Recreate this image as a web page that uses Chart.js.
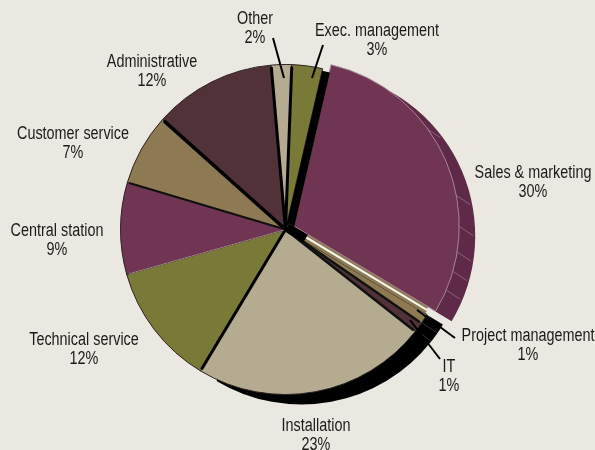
<!DOCTYPE html>
<html>
<head>
<meta charset="utf-8">
<title>Staff by department</title>
<script src="https://cdn.jsdelivr.net/npm/chart.js@4/dist/chart.umd.min.js"></script>
<style>
  html, body { margin: 0; padding: 0; background: #ebe8e1; overflow: hidden; }
  canvas { position: absolute; left: 0; top: 0; }
</style>
</head>
<body>
<canvas id="depthChart" width="595" height="450"></canvas>
<canvas id="pieChart" width="595" height="450"></canvas>
<script>
var categories = ["Sales & marketing", "Project management", "IT", "Installation", "Technical service",
  "Central station", "Customer service", "Administrative", "Other", "Exec. management"];
var percents = [30, 1, 1, 23, 12, 9, 7, 12, 2, 3];

var sliceColors = ["#6f3553", "#8e7a52", "#513239", "#b5ab90", "#7a7a38",
  "#6f3553", "#8e7a52", "#513239", "#b5ab90", "#7a7a38"];
var depthColors = ["#5f2a48", "#000", "#000", "#000", "transparent",
  "transparent", "transparent", "transparent", "transparent", "transparent"];
var outlineColors = ["#a58597", "#2a2220", "#2a2220", "#2a2220", "#2a2220",
  "#2a2220", "#2a2220", "#2a2220", "#2a2220", "#2a2220"];
var sliceOffsets = [36, 0, 0, 0, 0, 0, 0, 0, 0, 0];

// line drawn on the closing edge of each slice, shift is sideways from the centre line
var edgeColors = ["#8e7a52", "#111", "#111", "#000", "#a8808f", "#111", "#000", "#000", "#000", "#000"];
var edgeWidths = [3, 2.5, 2.5, 3, 1, 2, 3.5, 3, 3, 8];
var edgeShifts = [-1.5, 0, 0, 0, 0, 0, 0, 0, 0, 4];

// ribs on the side of the lifted slice, degrees clockwise from top
var ribAngles = [53, 79, 90, 99, 106, 113];

// label anchors, same order as categories
var labelX = [533, 528, 449, 316, 84, 57, 73, 152, 255, 377];
var labelY = [173, 336, 367, 426, 340, 231, 134, 62, 19, 31];

var labelFont = "18px 'Liberation Sans', sans-serif";
var labelSqueeze = 0.8;
var radius = 165;
var startRotation = 13;

function stroke(ctx, x1, y1, x2, y2) {
  ctx.beginPath();
  ctx.moveTo(x1, y1);
  ctx.lineTo(x2, y2);
  ctx.stroke();
}

// line from the pie centre along angle a, moved sideways by shift
function radial(ctx, arc, a, shift, len) {
  var sx = -Math.sin(a) * shift;
  var sy = Math.cos(a) * shift;
  stroke(ctx, arc.x + sx, arc.y + sy, arc.x + sx + Math.cos(a) * len, arc.y + sy + Math.sin(a) * len);
}

var depthPlugin = {
  id: 'depthRibs',
  afterDatasetsDraw: function (chart) {
    var arc = chart.getDatasetMeta(0).data[0];
    var mid = (arc.startAngle + arc.endAngle) / 2;
    var cx = arc.x + Math.cos(mid) * 9.5;
    var cy = arc.y + Math.sin(mid) * 9.5;
    var ctx = chart.ctx;
    ctx.save();
    ctx.strokeStyle = "#8b6178";
    ctx.lineWidth = 1;
    ribAngles.forEach(function (deg) {
      var a = (deg - 90) * Math.PI / 180;
      var ox = cx + Math.cos(a) * (radius - 2);
      var oy = cy + Math.sin(a) * (radius - 2);
      stroke(ctx, ox, oy, ox - 15, oy - 10);
    });
    ctx.restore();
  }
};

var edgePlugin = {
  id: 'sliceEdges',
  afterDatasetsDraw: function (chart) {
    var ctx = chart.ctx;
    var arcs = chart.getDatasetMeta(0).data;
    ctx.save();
    arcs.forEach(function (arc, i) {
      ctx.strokeStyle = edgeColors[i];
      ctx.lineWidth = edgeWidths[i];
      radial(ctx, arc, arc.endAngle, edgeShifts[i], radius - 2);
    });
    // pale sliver under the lifted slice and the black knot at the centre
    var first = arcs[0];
    ctx.strokeStyle = "#f6f4ef";
    ctx.lineWidth = 2;
    radial(ctx, first, first.endAngle, -4, radius - 3);
    ctx.strokeStyle = "#8e7a52";
    ctx.lineWidth = 2;
    radial(ctx, first, first.endAngle, -6, radius - 3);
    ctx.strokeStyle = "#000";
    ctx.lineWidth = 9;
    radial(ctx, first, first.endAngle, -2.5, 22);

    // leader lines for the narrow slices
    ctx.lineWidth = 2;
    [[273, 38, 284, 78], [323, 45, 312, 78], [455, 338, 417, 310], [440, 359, 410, 320]].forEach(function (l) {
      stroke(ctx, l[0], l[1], l[2], l[3]);
    });
    // labels
    ctx.fillStyle = "#1c1a18";
    ctx.font = labelFont;
    ctx.textAlign = "center";
    ctx.textBaseline = "middle";
    categories.forEach(function (name, i) {
      ctx.save();
      ctx.translate(labelX[i], labelY[i]);
      ctx.scale(labelSqueeze, 1);
      ctx.fillText(name, 0, 0);
      ctx.fillText(percents[i] + "%", 0, 19);
      ctx.restore();
    });
    ctx.restore();
  }
};

function makePie(id, colors, borderColor, borderWidth, padding, plugin) {
  return new Chart(document.getElementById(id), {
    type: 'pie',
    data: {
      labels: categories,
      datasets: [{
        data: percents,
        backgroundColor: colors,
        borderColor: borderColor,
        borderWidth: borderWidth,
        offset: sliceOffsets,
        hoverOffset: 0
      }]
    },
    options: {
      responsive: false,
      animation: false,
      rotation: startRotation,
      radius: radius,
      layout: { padding: padding },
      events: [],
      plugins: { legend: { display: false }, tooltip: { enabled: false } }
    },
    plugins: [plugin]
  });
}

makePie("depthChart", depthColors, "transparent", 0, { left: 8, right: 0, top: 29, bottom: 0 }, depthPlugin);
makePie("pieChart", sliceColors, outlineColors, 1, { left: 0, right: 24, top: 9, bottom: 0 }, edgePlugin);
</script>
</body>
</html>
